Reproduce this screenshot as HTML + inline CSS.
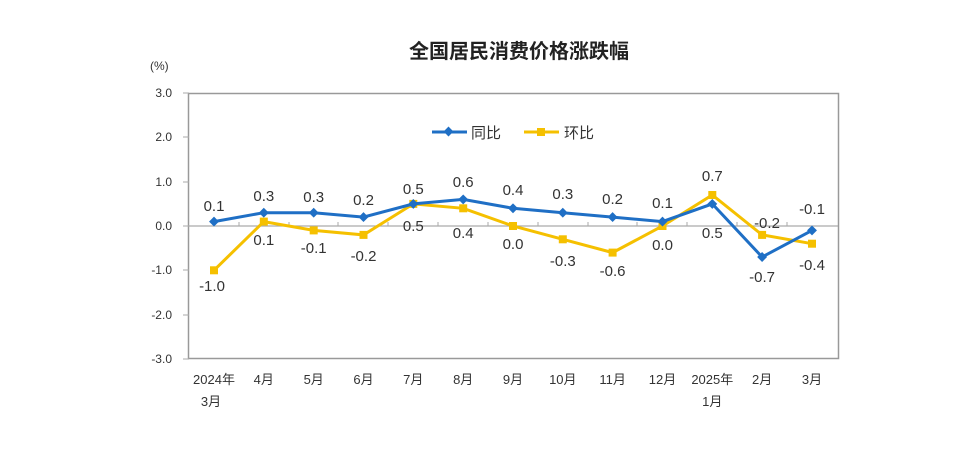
<!DOCTYPE html>
<html><head><meta charset="utf-8"><style>
html,body{margin:0;padding:0;background:#fff;}
svg{display:block;font-family:"Liberation Sans","Noto Sans CJK SC",sans-serif;}
</style></head><body>
<svg width="969" height="462" viewBox="0 0 969 462" xmlns="http://www.w3.org/2000/svg">
<rect width="969" height="462" fill="#fff"/>
<text x="519" y="58" font-size="20" text-anchor="middle" fill="#222" font-family="'Noto Sans CJK SC',sans-serif" font-weight="bold">全国居民消费价格涨跌幅</text>
<text x="150" y="70" font-size="12" fill="#333">(%)</text>
<g font-size="12" fill="#333" text-anchor="end">
<text x="172" y="97">3.0</text><text x="172" y="141">2.0</text><text x="172" y="186">1.0</text>
<text x="172" y="230">0.0</text><text x="172" y="274">-1.0</text><text x="172" y="319">-2.0</text><text x="172" y="363">-3.0</text>
</g>
<rect x="188.5" y="93.5" width="650" height="265" fill="none" stroke="#999" stroke-width="1.5"/>
<line x1="188" y1="226" x2="838" y2="226" stroke="#aaa" stroke-width="1.3"/>
<g stroke="#aaa" stroke-width="1">
<line x1="183" y1="93" x2="189" y2="93"/><line x1="183" y1="137" x2="189" y2="137"/><line x1="183" y1="182" x2="189" y2="182"/><line x1="183" y1="226" x2="189" y2="226"/><line x1="183" y1="270" x2="189" y2="270"/><line x1="183" y1="315" x2="189" y2="315"/><line x1="183" y1="359" x2="189" y2="359"/>
<line x1="239" y1="222" x2="239" y2="226"/><line x1="289" y1="222" x2="289" y2="226"/><line x1="338" y1="222" x2="338" y2="226"/><line x1="388" y1="222" x2="388" y2="226"/><line x1="438" y1="222" x2="438" y2="226"/><line x1="488" y1="222" x2="488" y2="226"/><line x1="538" y1="222" x2="538" y2="226"/><line x1="588" y1="222" x2="588" y2="226"/><line x1="637" y1="222" x2="637" y2="226"/><line x1="687" y1="222" x2="687" y2="226"/><line x1="737" y1="222" x2="737" y2="226"/><line x1="787" y1="222" x2="787" y2="226"/>
</g>
<!-- legend -->
<line x1="432" y1="132" x2="467" y2="132" stroke="#1f6fc5" stroke-width="3"/>
<rect x="445" y="128" width="7" height="7" fill="#1f6fc5" transform="rotate(45 448.5 131.5)"/>
<text x="471" y="138" font-size="15" fill="#333" font-family="'Noto Sans CJK SC',sans-serif">同比</text>
<line x1="524" y1="132" x2="559" y2="132" stroke="#f5c000" stroke-width="3"/>
<rect x="537" y="128" width="8" height="8" fill="#f5c000"/>
<text x="564" y="138" font-size="15" fill="#333" font-family="'Noto Sans CJK SC',sans-serif">环比</text>
<!-- yellow -->
<polyline fill="none" stroke="#f5c000" stroke-width="3" points="214,270.3 263.8,221.6 313.7,230.4 363.5,234.9 413.3,203.9 463.2,208.3 513,226 562.8,239.3 612.6,252.6 662.5,226 712.3,195 762.1,234.9 812,243.7"/>
<g fill="#f5c000">
<rect x="210" y="266.3" width="8" height="8"/><rect x="259.8" y="217.6" width="8" height="8"/><rect x="309.7" y="226.4" width="8" height="8"/><rect x="359.5" y="230.9" width="8" height="8"/><rect x="409.3" y="199.9" width="8" height="8"/><rect x="459.2" y="204.3" width="8" height="8"/><rect x="509" y="222" width="8" height="8"/><rect x="558.8" y="235.3" width="8" height="8"/><rect x="608.6" y="248.6" width="8" height="8"/><rect x="658.5" y="222" width="8" height="8"/><rect x="708.3" y="191" width="8" height="8"/><rect x="758.1" y="230.9" width="8" height="8"/><rect x="808" y="239.7" width="8" height="8"/>
</g>
<!-- blue -->
<polyline fill="none" stroke="#1f6fc5" stroke-width="3" points="214,221.6 263.8,212.7 313.7,212.7 363.5,217.1 413.3,203.9 463.2,199.4 513,208.3 562.8,212.7 612.6,217.1 662.5,221.6 712.3,203.9 762.1,257 812,230.4"/>
<g fill="#1f6fc5">
<g transform="translate(214,221.6) rotate(45)"><rect x="-3.5" y="-3.5" width="7" height="7"/></g>
<g transform="translate(263.8,212.7) rotate(45)"><rect x="-3.5" y="-3.5" width="7" height="7"/></g>
<g transform="translate(313.7,212.7) rotate(45)"><rect x="-3.5" y="-3.5" width="7" height="7"/></g>
<g transform="translate(363.5,217.1) rotate(45)"><rect x="-3.5" y="-3.5" width="7" height="7"/></g>
<g transform="translate(413.3,203.9) rotate(45)"><rect x="-3.5" y="-3.5" width="7" height="7"/></g>
<g transform="translate(463.2,199.4) rotate(45)"><rect x="-3.5" y="-3.5" width="7" height="7"/></g>
<g transform="translate(513,208.3) rotate(45)"><rect x="-3.5" y="-3.5" width="7" height="7"/></g>
<g transform="translate(562.8,212.7) rotate(45)"><rect x="-3.5" y="-3.5" width="7" height="7"/></g>
<g transform="translate(612.6,217.1) rotate(45)"><rect x="-3.5" y="-3.5" width="7" height="7"/></g>
<g transform="translate(662.5,221.6) rotate(45)"><rect x="-3.5" y="-3.5" width="7" height="7"/></g>
<g transform="translate(712.3,203.9) rotate(45)"><rect x="-3.5" y="-3.5" width="7" height="7"/></g>
<g transform="translate(762.1,257) rotate(45)"><rect x="-3.5" y="-3.5" width="7" height="7"/></g>
<g transform="translate(812,230.4) rotate(45)"><rect x="-3.5" y="-3.5" width="7" height="7"/></g>
</g>
<!-- data labels -->
<g font-size="15" fill="#333" text-anchor="middle">
<text x="214" y="211">0.1</text><text x="263.8" y="201">0.3</text><text x="313.7" y="202">0.3</text><text x="363.5" y="205">0.2</text><text x="413.3" y="194">0.5</text><text x="463.2" y="187">0.6</text><text x="513" y="195">0.4</text><text x="562.8" y="199">0.3</text><text x="612.6" y="204">0.2</text><text x="662.5" y="208">0.1</text><text x="712.3" y="181">0.7</text><text x="812" y="214">-0.1</text><text x="767" y="228">-0.2</text>
<text x="212" y="291">-1.0</text><text x="263.8" y="245">0.1</text><text x="313.7" y="253">-0.1</text><text x="363.5" y="261">-0.2</text><text x="413.3" y="231">0.5</text><text x="463.2" y="238">0.4</text><text x="513" y="249">0.0</text><text x="562.8" y="266">-0.3</text><text x="612.6" y="276">-0.6</text><text x="662.5" y="250">0.0</text><text x="712.3" y="238">0.5</text><text x="762.1" y="282">-0.7</text><text x="812" y="270">-0.4</text>
</g>
<!-- x labels -->
<g font-size="13" fill="#333" text-anchor="middle" font-family="'Liberation Sans','Noto Sans CJK SC',sans-serif">
<text x="214" y="384">2024年</text><text x="211" y="406">3月</text>
<text x="263.8" y="384">4月</text><text x="313.7" y="384">5月</text><text x="363.5" y="384">6月</text><text x="413.3" y="384">7月</text><text x="463.2" y="384">8月</text><text x="513" y="384">9月</text><text x="562.8" y="384">10月</text><text x="612.6" y="384">11月</text><text x="662.5" y="384">12月</text>
<text x="712.3" y="384">2025年</text><text x="712.3" y="406">1月</text>
<text x="762.1" y="384">2月</text><text x="812" y="384">3月</text>
</g>
</svg>
</body></html>
